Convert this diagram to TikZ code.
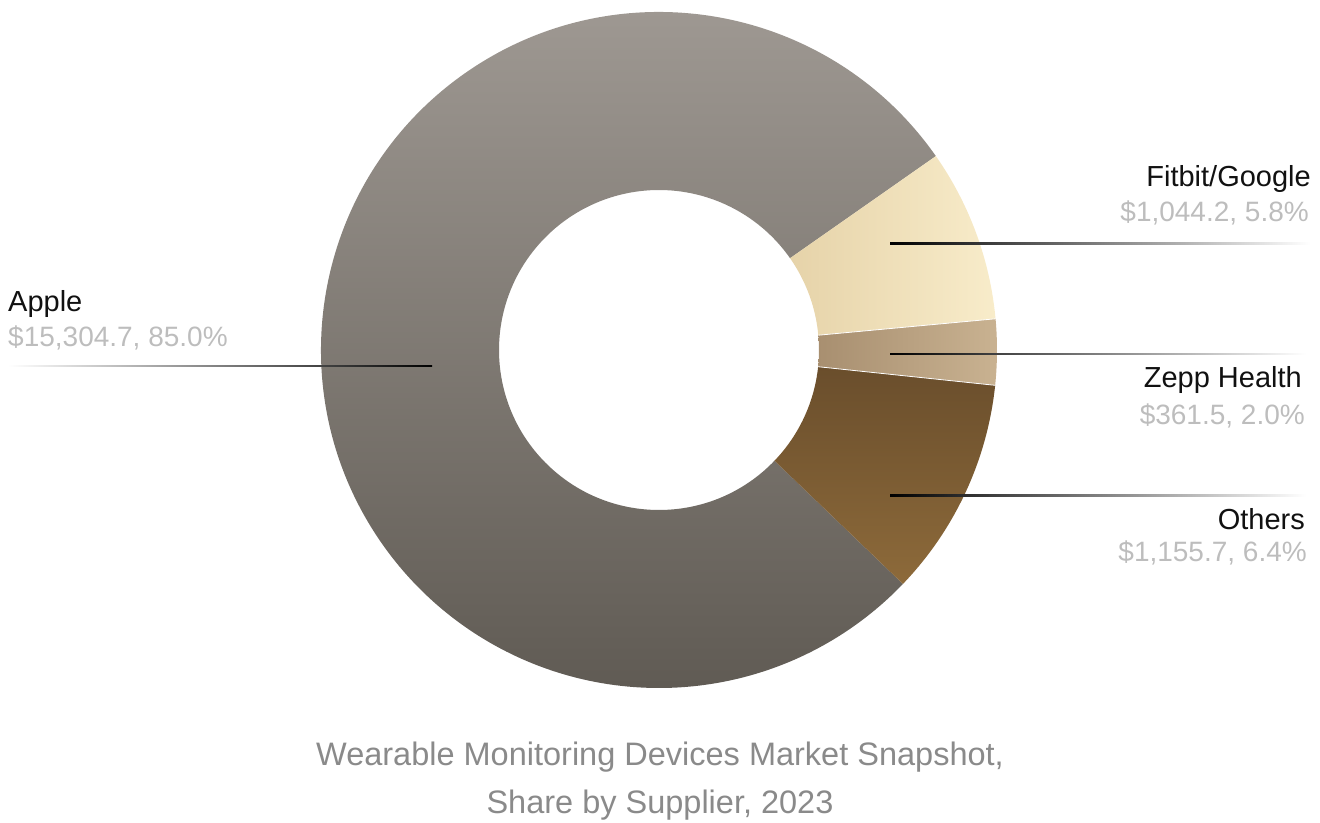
\documentclass[tikz,border=0pt]{standalone}
\usepackage{fontspec}
\setmainfont{Liberation Sans}
\usetikzlibrary{calc}
\definecolor{appletop}{HTML}{A29C96}
\definecolor{applebot}{HTML}{5F5A53}
\definecolor{fitcolA}{HTML}{E6D3A9}
\definecolor{fitcolB}{HTML}{F8ECCA}
\definecolor{zepcolA}{HTML}{A88F70}
\definecolor{zepcolB}{HTML}{C9B291}
\definecolor{othcolA}{HTML}{8D6A3A}
\definecolor{othcolB}{HTML}{6A4E2C}
\definecolor{titlegray}{HTML}{8A8A8A}
\definecolor{valgray}{HTML}{BDBDBD}
\definecolor{labelblack}{HTML}{111111}
\tikzset{
  lbl/.style={font=\fontsize{29}{32}\selectfont, text=labelblack, inner sep=0pt},
  val/.style={font=\fontsize{28}{30}\selectfont, text=valgray, inner sep=0pt},
  ttl/.style={font=\fontsize{32.5}{36}\selectfont, text=titlegray, inner sep=0pt},
}
\newcommand{\donutslice}[3]{% options, start, end
  \shade[#1] ($(C)+(#2:338)$) arc[start angle=#2, end angle=#3, radius=338]
    -- ($(C)+(#3:160)$) arc[start angle=#3, end angle=#2, radius=160] -- cycle;
}
\begin{document}
\begin{tikzpicture}[x=1pt,y=1pt]
\useasboundingbox (0,0) rectangle (1320,822);
\coordinate (C) at (659,472);
% slices
\donutslice{top color=appletop, bottom color=applebot}{35}{316.2}
\donutslice{left color=fitcolA, right color=fitcolB}{5.3}{35}
\donutslice{left color=zepcolA, right color=zepcolB}{-6}{5.3}
\donutslice{top color=othcolB, bottom color=othcolA}{-43.8}{-6}
\draw[white, line width=0.8pt] ($(C)+(5.3:160)$) -- ($(C)+(5.3:338)$);
\draw[white, line width=0.8pt] ($(C)+(-6:160)$) -- ($(C)+(-6:338)$);
% leader line anchors
\coordinate (appleA) at (432,456);
\coordinate (appleB) at (8,456);
\coordinate (fitA) at (890,578.5);
\coordinate (fitB) at (1310,578.5);
\coordinate (zepA) at (890,468);
\coordinate (zepB) at (1306,468);
\coordinate (othA) at (890,326.5);
\coordinate (othB) at (1306,326.5);
\shade[left color=white, right color=black] ($(appleB)+(0,-0.7)$) rectangle ($(appleA)+(0,0.7)$);
\shade[left color=black, right color=white] ($(fitA)+(0,-0.7)$) rectangle ($(fitB)+(0,0.7)$);
\shade[left color=black, right color=white] ($(zepA)+(0,-0.7)$) rectangle ($(zepB)+(0,0.7)$);
\shade[left color=black, right color=white] ($(othA)+(0,-0.7)$) rectangle ($(othB)+(0,0.7)$);
% labels
\node[lbl, anchor=base west] (appleL) at (8,510) {Apple};
\node[val, anchor=west] (appleV) at (8,484) {\$15,304.7, 85.0\%};
\node[lbl, anchor=base east] (fitL) at (1311,635) {Fitbit/Google};
\node[val, anchor=east] (fitV) at (1309,609) {\$1,044.2, 5.8\%};
\node[lbl, anchor=base east] (zepL) at (1302,434) {Zepp Health};
\node[val, anchor=east] (zepV) at (1305,406) {\$361.5, 2.0\%};
\node[lbl, anchor=base east] (othL) at (1305,292) {Others};
\node[val, anchor=east] (othV) at (1307,269) {\$1,155.7, 6.4\%};
% title
\node[ttl, anchor=base] (t1) at (660,56) {Wearable Monitoring Devices Market Snapshot,};
\node[ttl, anchor=base] (t2) at (660,9) {Share by Supplier, 2023};
\end{tikzpicture}
\end{document}
